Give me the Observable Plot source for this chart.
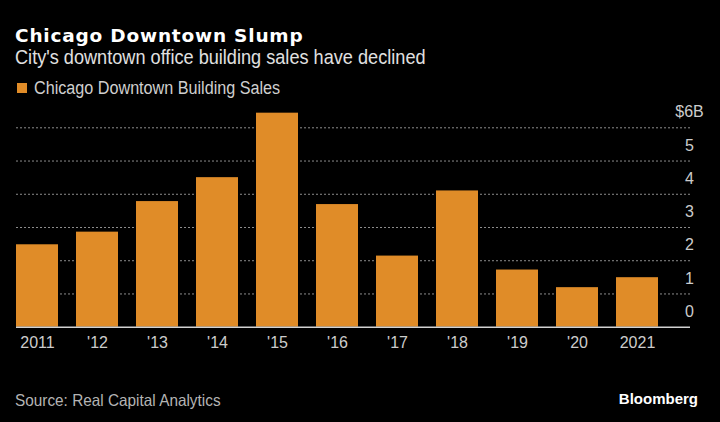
<!DOCTYPE html>
<html>
<head>
<meta charset="utf-8">
<script src="https://cdn.jsdelivr.net/npm/d3@7"></script>
<script src="https://cdn.jsdelivr.net/npm/@observablehq/plot@0.6"></script>
<style>
  html, body { margin:0; padding:0; background:#000; }
  #wrap { position:relative; width:720px; height:422px; background:#000; overflow:hidden; }
  .t { position:absolute; white-space:nowrap; line-height:1; transform-origin:0 0; }
  #title { left:15px; top:25px; font:bold 18.5px "DejaVu Sans", sans-serif; letter-spacing:0.8px; color:#fff; }
  #subtitle { left:15px; top:45px; font:20.5px "Liberation Sans", Arial, sans-serif; color:#e0e0e0; transform:scaleX(0.885); }
  #legend { left:17px; top:77.5px; font:18px "Liberation Sans", Arial, sans-serif; color:#cfcfcf; width:300px; height:20px; }
  #legend .sw { position:absolute; left:0; top:5.5px; width:10px; height:10px; }
  #legend .lt { position:absolute; left:17px; top:0; transform-origin:0 0; transform:scaleX(0.898); white-space:nowrap; }
  #source { left:15px; top:391px; font:16.5px "Liberation Sans", Arial, sans-serif; color:#b4b4b4; transform:scaleX(0.93); }
  #brand { right:22px; top:389.6px; font:bold 15px "Liberation Sans", Arial, sans-serif; color:#fff; }
  #chart { position:absolute; left:0; top:100px; }
</style>
</head>
<body>
<div id="wrap">
  <div class="t" id="title"></div>
  <div class="t" id="subtitle"></div>
  <div class="t" id="legend"><span class="sw"></span><span class="lt"></span></div>
  <div id="chart"></div>
  <div class="t" id="source"></div>
  <div class="t" id="brand"></div>
</div>
<script>
const titleText = "Chicago Downtown Slump";
const subtitleText = "City's downtown office building sales have declined";
const seriesName = "Chicago Downtown Building Sales";
const sourceText = "Source: Real Capital Analytics";
const brandText = "Bloomberg";

const years = ["2011","2012","2013","2014","2015","2016","2017","2018","2019","2020","2021"];
const yearLabels = ["2011","'12","'13","'14","'15","'16","'17","'18","'19","'20","2021"];
const sales = [2.48, 2.86, 3.78, 4.50, 6.44, 3.69, 2.14, 4.10, 1.72, 1.19, 1.49];
const yTicks = [0, 1, 2, 3, 4, 5, 6];
const yTickLabels = ["0", "1", "2", "3", "4", "5", "$6B"];
const barColor = "#E08C28";

document.getElementById("title").textContent = titleText;
document.getElementById("subtitle").textContent = subtitleText;
document.querySelector("#legend .lt").textContent = seriesName;
document.querySelector("#legend .sw").style.background = barColor;
document.getElementById("source").textContent = sourceText;
document.getElementById("brand").textContent = brandText;

const data = years.map((y, i) => ({year: y, value: sales[i]}));
const labelOf = new Map(years.map((y, i) => [y, yearLabels[i]]));
const yLabelOf = new Map(yTicks.map((t, i) => [t, yTickLabels[i]]));

const chart = Plot.plot({
  width: 720,
  height: 260,
  marginLeft: 16,
  marginRight: 30,
  marginTop: 27.3,
  marginBottom: 33.3,
  style: {background: "#000", color: "#cccccc", fontFamily: "'Liberation Sans', Arial, sans-serif", overflow: "visible"},
  x: {domain: years, paddingInner: 0.3, paddingOuter: 0.2425, align: 0},
  y: {domain: [0, 6]},
  marks: [
    Plot.ruleY(yTicks.filter(d => d > 0), {stroke: "#8c8c8c", strokeWidth: 1, strokeDasharray: "2,2"}),
    Plot.barY(data, {x: "year", y: "value", fill: barColor}),
    Plot.ruleY([0], {stroke: "#d2d2d2", strokeWidth: 1.5}),
    Plot.axisX({tickSize: 0, tickPadding: 9, tickFormat: d => labelOf.get(d), fontSize: 16, fill: "#cccccc", label: null, style: {letterSpacing: "0.5px"}}),
    Plot.axisY({anchor: "right", ticks: yTicks, tickSize: 0, tickPadding: 0, textAnchor: "middle", dx: -1, dy: -15.5, tickFormat: d => yLabelOf.get(d), fontSize: 16, fill: "#cccccc", label: null, style: {letterSpacing: "0.5px"}})
  ]
});
document.getElementById("chart").appendChild(chart);
</script>
</body>
</html>
